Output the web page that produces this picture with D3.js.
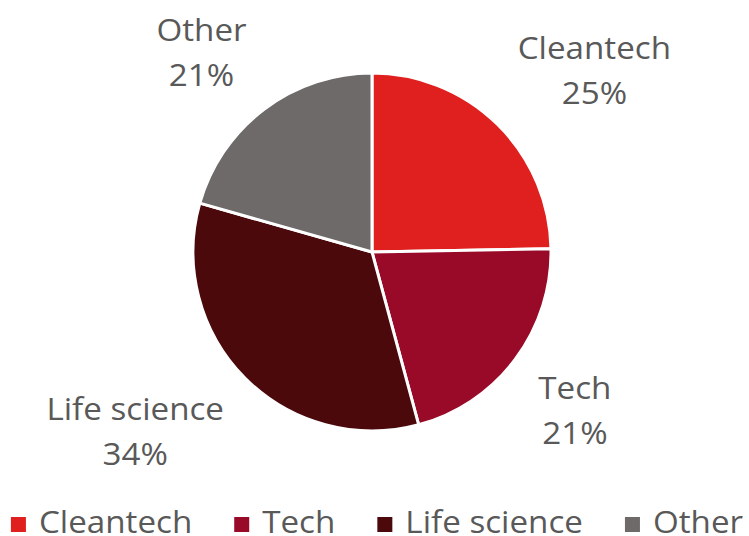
<!DOCTYPE html>
<html>
<head>
<meta charset="utf-8">
<script src="https://d3js.org/d3.v7.min.js"></script>
<style>
  body { margin: 0; background: #fff; }
  text { font-family: "Open Sans", sans-serif; fill: #595959; }
</style>
</head>
<body>
<svg width="749" height="536"></svg>
<script>
var categories = ["Cleantech", "Tech", "Life science", "Other"];
var values = [24.7, 21.1, 33.6, 20.6];
var colors = ["#e01f1f", "#990a28", "#4b090b", "#6f6a6a"];

var svg = d3.select("svg"),
    cx = 372, cy = 252, r = 179,
    fontSize = 31,
    stretch = 1.07,        // text in the source is a bit wide
    lineGap = 45;

var pie = d3.pie().sort(null)(values);
var arc = d3.arc().innerRadius(0).outerRadius(r);
var total = d3.sum(values);

var g = svg.append("g").attr("transform", "translate(" + cx + "," + cy + ")");

g.selectAll("path")
    .data(pie)
  .enter().append("path")
    .attr("d", arc)
    .attr("fill", function(d, i) { return colors[i]; })
    .attr("stroke", "#fff")
    .attr("stroke-width", 3)
    .attr("stroke-linejoin", "round");

// data labels, outside end: nearest corner of the text box sits just past the rim
var labelDist = r + 29;
var labels = g.selectAll(".lbl")
    .data(pie)
  .enter().append("text")
    .attr("class", "lbl")
    .attr("text-anchor", "middle")
    .style("font-size", fontSize + "px");

labels.append("tspan")
    .attr("x", 0).attr("y", 0)
    .text(function(d, i) { return categories[i]; });
labels.append("tspan")
    .attr("x", 0).attr("y", lineGap)
    .text(function(d) { return Math.round(d.value / total * 100) + "%"; });

labels.each(function(d) {
  var w = 0;
  d3.select(this).selectAll("tspan").each(function() {
    w = Math.max(w, this.getComputedTextLength());
  });
  var hw = w * stretch / 2,
      capTop = -0.714 * fontSize,
      hh = (lineGap - capTop) / 2,
      midOff = (lineGap + capTop) / 2;   // box centre relative to first baseline
  var a = (d.startAngle + d.endAngle) / 2;
  var sx = Math.sin(a), sy = -Math.cos(a);
  var px = labelDist * sx, py = labelDist * sy;
  var bx = px + (sx >= 0 ? 1 : -1) * hw;
  var by = py + (sy >= 0 ? 1 : -1) * hh;
  d3.select(this).attr("transform",
    "translate(" + bx + "," + (by - midOff) + ") scale(" + stretch + ",1)");
});

// legend
var legend = svg.append("g");
var lx = 0, itemGap = 42;
var items = legend.selectAll("g")
    .data(categories)
  .enter().append("g");
items.append("rect")
    .attr("width", 15).attr("height", 15)
    .attr("y", -15)
    .attr("fill", function(d, i) { return colors[i]; });
items.append("text")
    .attr("transform", "translate(28,1) scale(" + stretch + ",1)")
    .style("font-size", fontSize + "px")
    .text(function(d) { return d; });
items.each(function() {
  var w = 28 + d3.select(this).select("text").node().getComputedTextLength() * stretch;
  d3.select(this).attr("transform", "translate(" + lx + ",0)");
  lx += w + itemGap;
});
var lw = lx - itemGap;
legend.attr("transform", "translate(" + (377 - lw / 2) + ",532)");
</script>
</body>
</html>
